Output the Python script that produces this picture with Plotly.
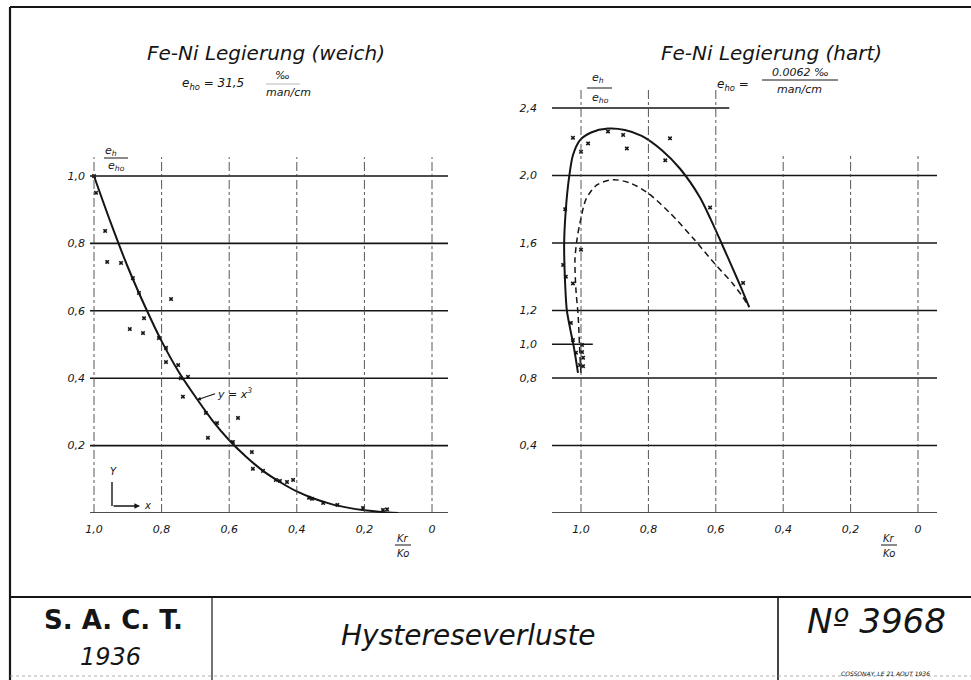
import plotly.graph_objects as go

W, H = 971, 680

# ---------------- data ----------------
x_ticks = [1.0, 0.8, 0.6, 0.4, 0.2, 0.0]
x_ticktext = ["1,0", "0,8", "0,6", "0,4", "0,2", "0"]
left_y_ticks = [0.2, 0.4, 0.6, 0.8, 1.0]
left_y_ticktext = ["0,2", "0,4", "0,6", "0,8", "1,0"]
right_y_ticks = [0.4, 0.8, 1.0, 1.2, 1.6, 2.0, 2.4]
right_y_ticktext = ["0,4", "0,8", "1,0", "1,2", "1,6", "2,0", "2,4"]

# Fe-Ni weich : fitted curve y = x^3
weich_curve_x = [1.0, 0.95, 0.9, 0.85, 0.8, 0.75, 0.7, 0.65, 0.6, 0.55, 0.5,
                 0.45, 0.4, 0.35, 0.3, 0.25, 0.2, 0.15, 0.1]
weich_curve_y = [1.0, 0.86, 0.73, 0.615, 0.51, 0.42, 0.345, 0.275, 0.216, 0.167,
                 0.125, 0.092, 0.064, 0.043, 0.027, 0.016, 0.008, 0.003, 0.0]
# measured points
weich_pts_x = [1.0, 0.994, 0.967, 0.961, 0.92, 0.885, 0.867, 0.772, 0.852, 0.894,
               0.855, 0.808, 0.787, 0.787, 0.751, 0.743, 0.722, 0.737, 0.669, 0.636,
               0.574, 0.663, 0.589, 0.533, 0.530, 0.50, 0.462, 0.45, 0.429, 0.411,
               0.364, 0.355, 0.322, 0.28, 0.204, 0.145, 0.133]
weich_pts_y = [1.0, 0.95, 0.837, 0.745, 0.742, 0.697, 0.653, 0.635, 0.578, 0.546,
               0.534, 0.519, 0.49, 0.448, 0.439, 0.40, 0.404, 0.345, 0.297, 0.267,
               0.282, 0.223, 0.211, 0.181, 0.131, 0.125, 0.098, 0.095, 0.092, 0.098,
               0.045, 0.042, 0.03, 0.024, 0.015, 0.009, 0.011]

# Fe-Ni hart : solid curve
hart_solid_x = [1.009, 1.021, 1.033, 1.042, 1.048, 1.05, 1.045, 1.036, 1.024, 1.003,
                0.97, 0.92, 0.87, 0.82, 0.76, 0.706, 0.647, 0.615, 0.58, 0.55,
                0.525, 0.501]
hart_solid_y = [0.83, 0.98, 1.10, 1.20, 1.40, 1.60, 1.80, 1.98, 2.12, 2.21,
                2.255, 2.278, 2.27, 2.235, 2.15, 2.04, 1.87, 1.74, 1.585, 1.45,
                1.335, 1.22]
# dashed curve
hart_dash_x = [1.0, 1.003, 1.006, 1.009, 1.015, 1.018, 1.012, 1.003, 0.985, 0.953,
               0.905, 0.855, 0.804, 0.736, 0.668, 0.6, 0.55, 0.52, 0.501]
hart_dash_y = [0.83, 0.925, 1.067, 1.185, 1.32, 1.50, 1.62, 1.72, 1.86, 1.944,
               1.975, 1.956, 1.90, 1.778, 1.63, 1.47, 1.36, 1.28, 1.22]
# measured points
hart_pts_x = [1.024, 0.979, 1.0, 0.92, 0.875, 0.864, 0.736, 0.75, 0.617, 0.519,
              1.047, 1.053, 1.045, 1.0, 1.024, 1.03, 1.024, 1.015, 0.997, 0.997,
              0.994, 1.003, 0.994]
hart_pts_y = [2.223, 2.19, 2.14, 2.26, 2.24, 2.16, 2.22, 2.09, 1.81, 1.363,
              1.80, 1.47, 1.40, 1.56, 1.36, 1.126, 1.025, 0.95, 0.996, 0.954,
              0.92, 0.877, 0.87]

# grid definitions
left_hgrid = [0.0, 0.2, 0.4, 0.6, 0.8, 1.0]
left_vgrid = [1.0, 0.8, 0.6, 0.4, 0.2, 0.0]
right_hgrid_full = [0.0, 0.4, 0.8, 1.2, 1.6, 2.0]
right_vgrid_tall = [1.0, 0.8, 0.6]
right_vgrid_short = [0.4, 0.2, 0.0]

# ---------------- helpers ----------------
def PX(px):
    return px / W

def PY(py):
    return 1 - py / H

INK = "#151515"
FONT = "DejaVu Sans"

fig = go.Figure()

fig.add_trace(go.Scatter(x=weich_curve_x, y=weich_curve_y, mode="lines",
                         line=dict(color=INK, width=2, shape="spline"),
                         xaxis="x", yaxis="y", showlegend=False, hoverinfo="skip"))
fig.add_trace(go.Scatter(x=weich_pts_x, y=weich_pts_y, mode="markers",
                         marker=dict(symbol="x", size=4, color=INK),
                         xaxis="x", yaxis="y", showlegend=False))
fig.add_trace(go.Scatter(x=hart_solid_x, y=hart_solid_y, mode="lines",
                         line=dict(color=INK, width=2, shape="spline", smoothing=0.8),
                         xaxis="x2", yaxis="y2", showlegend=False, hoverinfo="skip"))
fig.add_trace(go.Scatter(x=hart_dash_x, y=hart_dash_y, mode="lines",
                         line=dict(color=INK, width=1.5, dash="6px,4px", shape="spline", smoothing=0.8),
                         xaxis="x2", yaxis="y2", showlegend=False, hoverinfo="skip"))
fig.add_trace(go.Scatter(x=hart_pts_x, y=hart_pts_y, mode="markers",
                         marker=dict(symbol="x", size=4, color=INK),
                         xaxis="x2", yaxis="y2", showlegend=False))

shapes = []
# left grid
for v in left_hgrid:
    shapes.append(dict(type="line", xref="x", yref="y", x0=1.0118, x1=-0.0473, y0=v, y1=v,
                       line=dict(color=INK, width=1.6)))
for v in left_vgrid:
    shapes.append(dict(type="line", xref="x", yref="y", x0=v, x1=v, y0=0, y1=1.056,
                       line=dict(color="#444", width=0.9, dash="dashdot")))
# right grid
for v in right_hgrid_full:
    shapes.append(dict(type="line", xref="x2", yref="y2", x0=1.086, x1=-0.0564, y0=v, y1=v,
                       line=dict(color=INK, width=1.6)))
shapes.append(dict(type="line", xref="x2", yref="y2", x0=1.086, x1=0.56, y0=2.4, y1=2.4,
                   line=dict(color=INK, width=1.6)))
shapes.append(dict(type="line", xref="x2", yref="y2", x0=1.086, x1=0.965, y0=1.0, y1=1.0,
                   line=dict(color=INK, width=1.6)))
for v in right_vgrid_tall:
    shapes.append(dict(type="line", xref="x2", yref="y2", x0=v, x1=v, y0=0, y1=2.507,
                       line=dict(color="#444", width=0.9, dash="dashdot")))
for v in right_vgrid_short:
    shapes.append(dict(type="line", xref="x2", yref="y2", x0=v, x1=v, y0=0, y1=2.13,
                       line=dict(color="#444", width=0.9, dash="dashdot")))

def pline(x0, y0, x1, y1, w=1.0, color=INK, dash=None):
    d = dict(color=color, width=w)
    if dash:
        d["dash"] = dash
    shapes.append(dict(type="line", xref="paper", yref="paper",
                       x0=PX(x0), y0=PY(y0), x1=PX(x1), y1=PY(y1), line=d))

# frame & title block
pline(10, 7, 971, 7, 2.2)
pline(10, 7, 10, 680, 2.2)
pline(10, 597, 971, 597, 2.2)
pline(212, 597, 212, 680, 1.2)
pline(778, 597, 778, 680, 1.6)
pline(10, 676, 971, 676, 0.8, "#999", "dot")
# fraction bars
pline(104, 158, 128, 158, 1.0)
pline(587, 88, 612, 88, 1.0)
pline(395, 545, 411, 545, 1.0)
pline(881, 545, 897, 545, 1.0)
pline(762, 80, 838, 80, 1.0)
pline(266, 84, 300, 84, 0.6, "#888")
# small xy glyph
pline(112, 482, 112, 506, 1.4)

annotations = []

def txt(x, y, s, size=11, style="italic", weight="normal", xanchor="center", color=INK):
    annotations.append(dict(x=PX(x), y=PY(y), xref="paper", yref="paper", text=s,
                            showarrow=False, xanchor=xanchor, yanchor="middle",
                            font=dict(family=FONT, size=size, color=color, style=style, weight=weight)))

# titles
txt(266, 53, "Fe-Ni Legierung (weich)", 20)
txt(771, 53, "Fe-Ni Legierung (hart)", 20)
# subtitles
txt(213, 84, "e<sub>ho</sub> = 31,5", 12)
txt(282, 75, "‰", 11)
txt(288, 93, "man/cm", 11)
txt(733, 85, "e<sub>ho</sub> =", 12)
txt(800, 73, "0.0062 ‰", 11)
txt(799, 90, "man/cm", 11)
# axis fraction labels
txt(111, 151, "e<sub>h</sub>", 11)
txt(116, 166, "e<sub>ho</sub>", 11)
txt(598, 78, "e<sub>h</sub>", 11)
txt(600, 98, "e<sub>ho</sub>", 11)
txt(403, 538, "Kr", 10)
txt(403, 553, "Ko", 10)
txt(889, 538, "Kr", 10)
txt(889, 553, "Ko", 10)
# xy glyph
txt(113, 471, "Y", 10)
txt(147, 505, "x", 10)
annotations.append(dict(x=PX(140), y=PY(506), xref="paper", yref="paper",
                        axref="pixel", ayref="pixel", ax=-28, ay=0, text="", showarrow=True,
                        arrowhead=2, arrowsize=0.8, arrowwidth=1.4, arrowcolor=INK))
# y = x^3 label with arrow
annotations.append(dict(x=0.695, y=0.336, xref="x", yref="y", text="y = x<sup>3</sup>",
                        showarrow=True, ax=18, ay=-6, arrowhead=2, arrowsize=0.7,
                        arrowwidth=1.1, arrowcolor=INK, xanchor="left",
                        font=dict(family=FONT, size=11, color=INK, style="italic")))
# title block
txt(113, 620, "S. A. C. T.", 26, style="normal", weight="bold")
txt(110, 657, "1936", 24)
txt(468, 635, "Hystereseverluste", 28)
txt(876, 621, "Nº 3968", 34)
txt(885, 673, "COSSONAY, LE 21 AOUT 1936", 6)

tickfont = dict(family=FONT, size=11, color=INK, style="italic")
axis_common = dict(showgrid=False, zeroline=False, showline=False, ticks="",
                   tickfont=tickfont, fixedrange=True)

fig.update_layout(
    width=W, height=H, margin=dict(l=0, r=0, t=0, b=0),
    paper_bgcolor="white", plot_bgcolor="rgba(0,0,0,0)",
    showlegend=False,
    xaxis=dict(domain=[PX(86), PX(452)], range=[1.02367, -0.05917], anchor="y",
               tickvals=x_ticks, ticktext=x_ticktext, ticklabelstandoff=8, **axis_common),
    yaxis=dict(domain=[PY(513), PY(150)], range=[0, 1.0772], anchor="x",
               tickvals=left_y_ticks, ticktext=left_y_ticktext, ticklabelstandoff=0, **axis_common),
    xaxis2=dict(domain=[PX(552), PX(937)], range=[1.0861, -0.0564], anchor="y2",
                tickvals=x_ticks, ticktext=x_ticktext, ticklabelstandoff=8, **axis_common),
    yaxis2=dict(domain=[PY(513), PY(82)], range=[0, 2.554], anchor="x2",
                tickvals=right_y_ticks, ticktext=right_y_ticktext, ticklabelstandoff=14, **axis_common),
    shapes=shapes, annotations=annotations,
)

fig.write_html("out.html")
